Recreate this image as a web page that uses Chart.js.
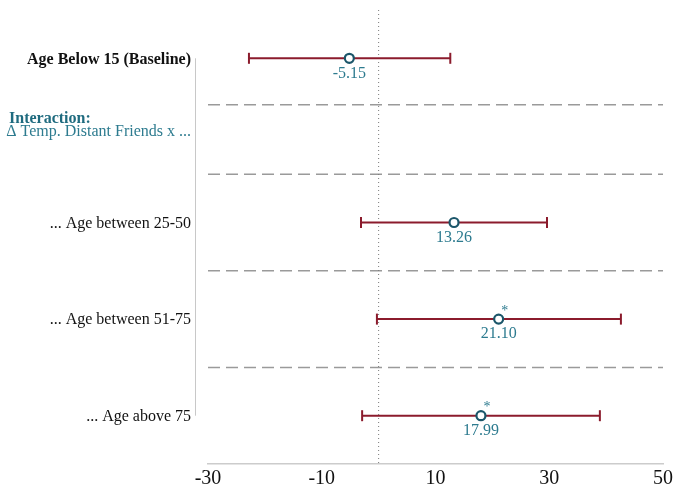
<!DOCTYPE html>
<html>
<head>
<meta charset="utf-8">
<script src="https://cdn.jsdelivr.net/npm/chart.js@4/dist/chart.umd.min.js"></script>
<style>
  html, body { margin: 0; padding: 0; background: #fff; }
  #wrap { width: 675px; height: 492px; }
</style>
</head>
<body>
<div id="wrap"><canvas id="coefChart"></canvas></div>
<script>
const rowLabels = ['Age Below 15 (Baseline)', '... Age between 25-50', '... Age between 51-75', '... Age above 75'];
const rowPos = [0, 1.7, 2.7, 3.7];
const estimates = [-5.15, 13.26, 21.10, 17.99];
const ciLow = [-22.8, -3.1, -0.3, -2.9];
const ciHigh = [12.6, 29.6, 42.6, 38.9];
const stars = ['', '', '*', '*'];
const dividerPos = [0.48, 1.2, 2.2, 3.2];
const headerTitle = 'Interaction:';
const headerSub = 'Δ Temp. Distant Friends x ...';
const headerPos = [0.625, 0.765];
const xTicks = [-30, -10, 10, 30, 50];

const serif = '"Liberation Serif", "DejaVu Serif", serif';
const barColor = '#8b1b2c';
const markColor = '#1b566a';
const labelColor = '#2d7b8f';

const yTicks = [
  { value: rowPos[0] + 0.015, label: rowLabels[0], bold: true },
  { value: headerPos[1], label: headerSub, teal: true },
  ...rowPos.slice(1).map((p, i) => ({ value: p + 0.01, label: rowLabels[i + 1] })),
];

const datasets = [];
datasets.push({
  data: rowPos.map((p, i) => ({ x: estimates[i], y: p })),
  pointRadius: 4.5, pointBorderWidth: 2.2,
  pointBorderColor: markColor, pointBackgroundColor: '#fff',
  showLine: false,
});
rowPos.forEach((p, i) => {
  datasets.push({
    data: [{ x: ciLow[i], y: p }, { x: ciHigh[i], y: p }],
    showLine: true, borderColor: barColor, borderWidth: 2,
    pointStyle: 'line', pointRotation: 90, pointRadius: 5.5,
    pointBorderWidth: 2, pointBorderColor: barColor,
  });
});
datasets.push({
  data: [{ x: 0, y: -0.5 }, { x: 0, y: 4.2 }],
  showLine: true, borderColor: '#7a7a7a', borderWidth: 1, borderDash: [1, 3], pointRadius: 0,
});
dividerPos.forEach(p => {
  datasets.push({
    data: [{ x: xTicks[0], y: p }, { x: xTicks[xTicks.length - 1], y: p }],
    showLine: true, borderColor: '#9a9a9a', borderWidth: 1.5, borderDash: [12, 6], pointRadius: 0,
  });
});

const extras = {
  id: 'extras',
  afterDraw(chart) {
    const { ctx, scales: { x, y } } = chart;
    ctx.save();
    // left axis line spanning the rows
    ctx.strokeStyle = '#c8c8c8';
    ctx.lineWidth = 1;
    ctx.beginPath();
    ctx.moveTo(195.5, y.getPixelForValue(rowPos[0]));
    ctx.lineTo(195.5, y.getPixelForValue(rowPos[rowPos.length - 1]));
    ctx.stroke();
    // header
    ctx.fillStyle = '#1f6b7f';
    ctx.font = `bold 16px ${serif}`;
    ctx.textAlign = 'left';
    ctx.textBaseline = 'middle';
    ctx.fillText(headerTitle, 9, y.getPixelForValue(headerPos[0]));
    // value labels and stars
    rowPos.forEach((p, i) => {
      const px = x.getPixelForValue(estimates[i]);
      const py = y.getPixelForValue(p);
      ctx.fillStyle = labelColor;
      ctx.font = `16px ${serif}`;
      ctx.textAlign = 'center';
      ctx.fillText(estimates[i].toFixed(2), px, py + 15);
      if (stars[i]) {
        ctx.font = `14px ${serif}`;
        ctx.fillText(stars[i], px + 6, py - 8);
      }
    });
    ctx.restore();
  },
};

new Chart(document.getElementById('coefChart'), {
  type: 'scatter',
  data: { datasets },
  options: {
    responsive: true,
    maintainAspectRatio: false,
    animation: false,
    layout: { padding: { top: 10, right: 12, left: 0, bottom: 0 } },
    plugins: { legend: { display: false }, tooltip: { enabled: false } },
    scales: {
      x: {
        type: 'linear', min: -30, max: 50,
        afterBuildTicks: scale => { scale.ticks = xTicks.map(v => ({ value: v })); },
        afterFit: scale => { scale.height = 28; scale.paddingLeft = 0; scale.paddingRight = 0; },
        grid: { display: false, drawTicks: false },
        border: { display: true, color: '#cccccc', width: 1.5 },
        ticks: { color: '#111', font: { family: serif, size: 20 }, padding: 3, maxRotation: 0 },
      },
      y: {
        type: 'linear', reverse: true, min: -0.5, max: 4.2,
        afterBuildTicks: scale => { scale.ticks = yTicks.map(t => ({ value: t.value })); },
        afterFit: scale => { scale.width = 208; scale.paddingTop = 0; scale.paddingBottom = 0; },
        grid: { display: false, drawTicks: false },
        border: { display: false },
        ticks: {
          padding: 17,
          callback: (v, i) => yTicks[i].label,
          color: ctx => (yTicks[ctx.index] && yTicks[ctx.index].teal ? labelColor : '#111'),
          font: ctx => ({ family: serif, size: 16, weight: yTicks[ctx.index] && yTicks[ctx.index].bold ? 'bold' : 'normal' }),
        },
      },
    },
  },
  plugins: [extras],
});
</script>
</body>
</html>
